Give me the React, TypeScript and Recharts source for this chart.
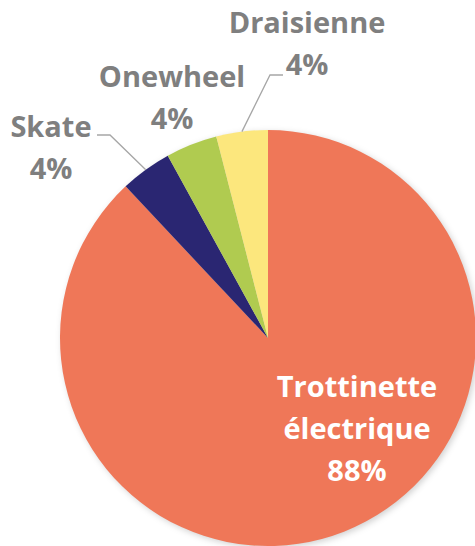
import React from 'react';
import { PieChart, Pie, Cell } from 'recharts';

const categories = ['Trottinette électrique', 'Skate', 'Onewheel', 'Draisienne'];
const shares = [88, 4, 4, 4];
const colors = ['#EF7758', '#2A2672', '#B0CB50', '#FCE77D'];

const data = categories.map((name, i) => ({ name, value: shares[i] }));
const shadowData = [{ name: 'shadow', value: 100 }];

// label layout relative to pie centre (first baseline), plus leader elbows
const labelLayout = [
    { dx: 89, dy: 59, fill: '#FFFFFF', line: null },
    { dx: -217, dy: -201, fill: '#7F7F7F', line: { elbow: [-158, -203], end: [-171, -203] } },
    { dx: -96, dy: -251, fill: '#7F7F7F', line: null },
    { dx: 39, dy: -305, fill: '#7F7F7F', line: { elbow: [2, -263], end: [15, -263] } },
];

const RAD = Math.PI / 180;
const LINE_H = 42;

function renderLabel(props: any) {
    const { cx, cy, midAngle, outerRadius, index, name, value } = props;
    const lay = labelLayout[index];
    const lines = index === 0 ? name.split(' ') : [name];
    lines.push(`${value}%`);
    const x = cx + lay.dx;
    const y = cy + lay.dy;
    const sx = cx + outerRadius * Math.cos(-midAngle * RAD);
    const sy = cy + outerRadius * Math.sin(-midAngle * RAD);
    return (
        <g key={`lbl-${index}`}>
            {lay.line && (
                <polyline
                    points={`${sx},${sy} ${cx + lay.line.elbow[0]},${cy + lay.line.elbow[1]} ${cx + lay.line.end[0]},${cy + lay.line.end[1]}`}
                    fill="none"
                    stroke="#A6A6A6"
                    strokeWidth={1.3}
                />
            )}
            <text
                x={x}
                y={y}
                textAnchor="middle"
                fill={lay.fill}
                style={{ fontFamily: '"Open Sans", sans-serif', fontWeight: 700, fontSize: 29 }}
            >
                {lines.map((t: string, i: number) => (
                    <tspan key={i} x={x} y={y + i * LINE_H}>
                        {t}
                    </tspan>
                ))}
            </text>
        </g>
    );
}

export default function App() {
    return (
        <div style={{ position: 'absolute', left: 0, top: 0, width: 475, height: 546, background: '#fff' }}>
            <PieChart width={475} height={546} margin={{ top: 0, right: 0, bottom: 0, left: 0 }}>
                <Pie
                    data={shadowData}
                    dataKey="value"
                    cx={270}
                    cy={340}
                    outerRadius={208}
                    stroke="none"
                    isAnimationActive={false}
                >
                    <Cell fill="#000000" fillOpacity={0.18} style={{ filter: 'blur(3px)' }} />
                </Pie>
                <Pie
                    data={data}
                    dataKey="value"
                    nameKey="name"
                    cx={268}
                    cy={338}
                    outerRadius={208}
                    startAngle={90}
                    endAngle={-270}
                    stroke="none"
                    label={renderLabel}
                    labelLine={false}
                    isAnimationActive={false}
                >
                    {data.map((d, i) => (
                        <Cell key={d.name} fill={colors[i]} />
                    ))}
                </Pie>
            </PieChart>
        </div>
    );
}
